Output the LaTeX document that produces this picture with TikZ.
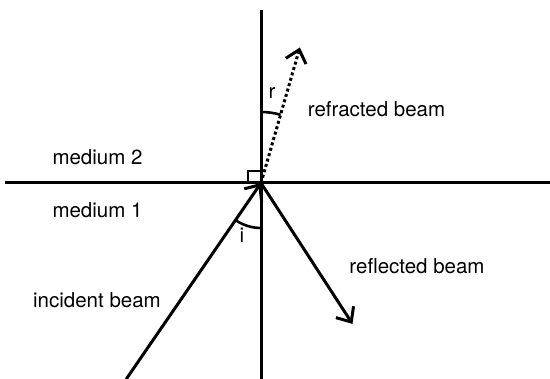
\documentclass[tikz,border=0pt]{standalone}
\usepackage{fontspec}
\setmainfont{TeX Gyre Heros}
\usetikzlibrary{arrows.meta,calc}
\begin{document}
\begin{tikzpicture}[x=1pt,y=-1pt,
  axis/.style={line width=3pt},
  beam/.style={line width=3pt},
  barb/.style={-{Straight Barb[length=12pt,width=21pt,line width=3pt]}},
  anglearc/.style={line width=2.6pt},
  lbl/.style={anchor=base,inner sep=0pt,font=\fontsize{20.5}{24}\selectfont}]
\useasboundingbox (0,0) rectangle (550,379);
\coordinate (O) at (261,183);
\coordinate (vtop) at (261,10);
\coordinate (vbot) at (261,379);
\coordinate (hl) at (5,183);
\coordinate (hr) at (550,183);
\coordinate (inc) at ($(O)+(124.5:238)$);
\coordinate (refl) at ($(O)+(57:168)$);
\coordinate (refr) at ($(O)+(-74:141)$);
\draw[axis] (vtop) -- (vbot);
\draw[axis] (hl) -- (hr);
\draw[line width=1.3pt] (248,171) rectangle (O);
\draw[beam,barb] (inc) -- (O);
\draw[beam,barb] (O) -- (refl);
\draw[beam,barb,dash pattern=on 3pt off 2.6pt] (O) -- (refr);
\draw[anglearc] ($(O)+(90:45)$) arc[start angle=90,end angle=124.5,radius=45];
\draw[anglearc] ($(O)+(-90:71)$) arc[start angle=-90,end angle=-74,radius=71];
\node[lbl] (lr) at (272,99) {r};
\node[lbl] (li) at (242,243) {i};
\node[lbl] (lrefr) at (376.5,117) {refracted beam};
\node[lbl] (lrefl) at (417,274) {reflected beam};
\node[lbl] (linc) at (97,308) {incident beam};
\node[lbl] (lm2) at (97.5,165) {medium 2};
\node[lbl] (lm1) at (97.5,218) {medium 1};
\end{tikzpicture}
\end{document}
